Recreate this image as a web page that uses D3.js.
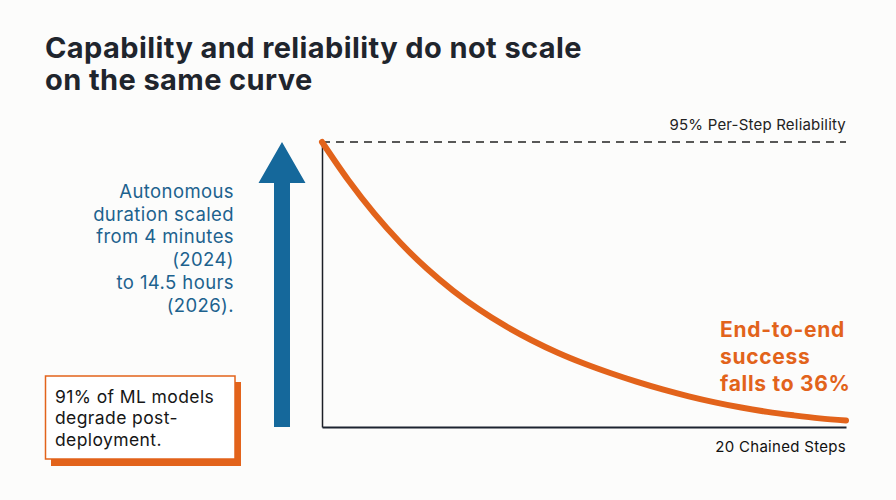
<!DOCTYPE html>
<html>
<head>
<meta charset="utf-8">
<script src="https://cdn.jsdelivr.net/npm/d3@7"></script>
<style>
  html, body { margin: 0; padding: 0; background: #fcfcfb; }
  svg { display: block; font-family: Inter, "Noto Sans", sans-serif; }
</style>
</head>
<body>
<div id="chart"></div>
<script>
// chained steps and end-to-end success
var steps = [0, 1, 2, 3, 4, 5, 6, 7, 8, 9, 10, 11, 12, 13, 14, 15, 16, 17, 18, 19, 20];
var success = [1.00, 0.912, 0.834, 0.766, 0.707, 0.656, 0.612, 0.574, 0.541, 0.512,
  0.487, 0.465, 0.445, 0.427, 0.411, 0.397, 0.385, 0.375, 0.367, 0.360, 0.355];

var titleLines = ["Capability and reliability do not scale", "on the same curve"];
var capabilityLines = ["Autonomous", "duration scaled", "from 4 minutes", "(2024)", "to 14.5 hours", "(2026)."];
var boxLines = ["91% of ML models", "degrade post-", "deployment."];
var endLines = ["End-to-end", "success", "falls to 36%"];
var topLabel = "95% Per-Step Reliability";
var bottomLabel = "20 Chained Steps";

var width = 896;
var height = 500;
var margin = { top: 142, right: 50, bottom: 73, left: 322 };

var orange = "#e2631b";
var blue = "#15689b";
var ink = "#1f252d";

var svg = d3.select("#chart").append("svg")
  .attr("width", width)
  .attr("height", height);

svg.append("rect").attr("width", width).attr("height", height).attr("fill", "#fcfcfb");

var xScale = d3.scaleLinear().domain([0, 20]).range([margin.left, width - margin.right]);
var yScale = d3.scaleLinear().domain([0.34, 1]).range([height - margin.bottom, margin.top]);

// title
svg.append("text")
  .attr("x", 45)
  .attr("y", 58)
  .attr("fill", ink)
  .style("font-size", "29px")
  .style("font-weight", 700)
  .style("letter-spacing", "0.4px")
  .selectAll("tspan")
  .data(titleLines)
  .enter().append("tspan")
  .attr("x", 45)
  .attr("dy", function(d, i) { return i ? 32 : 0; })
  .text(function(d) { return d; });

// dashed reference line
svg.append("line")
  .attr("x1", xScale(0))
  .attr("x2", xScale(20))
  .attr("y1", yScale(1))
  .attr("y2", yScale(1))
  .attr("stroke", "#222")
  .attr("stroke-width", 1.5)
  .attr("stroke-dasharray", "8,6");

svg.append("text")
  .attr("x", xScale(20))
  .attr("y", 129.5)
  .attr("text-anchor", "end")
  .attr("fill", "#222")
  .style("font-size", "15px")
  .style("letter-spacing", "0.2px")
  .text(topLabel);

// axes
svg.append("g")
  .attr("class", "y axis")
  .attr("transform", "translate(" + xScale(0) + ",0)")
  .call(d3.axisLeft(yScale).ticks(0).tickSizeOuter(0))
  .call(function(g) { g.select(".domain").attr("stroke", "#1c1f26").attr("stroke-width", 1.5); });

svg.append("g")
  .attr("class", "x axis")
  .attr("transform", "translate(0," + yScale(0.34) + ")")
  .call(d3.axisBottom(xScale).ticks(0).tickSizeOuter(0))
  .call(function(g) { g.select(".domain").attr("stroke", "#1c2330").attr("stroke-width", 2); });

svg.append("text")
  .attr("x", xScale(20))
  .attr("y", 452)
  .attr("text-anchor", "end")
  .attr("fill", "#111")
  .style("font-size", "15px")
  .style("letter-spacing", "0.3px")
  .text(bottomLabel);

// curve
var line = d3.line()
  .x(function(d, i) { return xScale(steps[i]); })
  .y(function(d) { return yScale(d); })
  .curve(d3.curveMonotoneX);

svg.append("path")
  .datum(success)
  .attr("d", line)
  .attr("fill", "none")
  .attr("stroke", orange)
  .attr("stroke-width", 6)
  .attr("stroke-linecap", "round");

// end label
svg.append("text")
  .attr("x", 720)
  .attr("y", 337)
  .attr("fill", orange)
  .style("font-size", "21px")
  .style("font-weight", 700)
  .style("letter-spacing", "0.7px")
  .selectAll("tspan")
  .data(endLines)
  .enter().append("tspan")
  .attr("x", 720)
  .attr("dy", function(d, i) { return i ? 27 : 0; })
  .text(function(d) { return d; });

// capability arrow
var ax = 282;
var tipY = yScale(1);
var baseY = yScale(0.34);
svg.append("path")
  .attr("d", "M" + ax + "," + tipY +
    "L" + (ax + 23.5) + "," + (tipY + 41) +
    "H" + (ax + 8) + "V" + baseY +
    "H" + (ax - 8) + "V" + (tipY + 41) +
    "H" + (ax - 23.5) + "Z")
  .attr("fill", blue);

svg.append("text")
  .attr("x", 234)
  .attr("y", 198)
  .attr("text-anchor", "end")
  .attr("fill", "#1d628e")
  .style("font-size", "18.5px")
  .style("letter-spacing", "0.4px")
  .selectAll("tspan")
  .data(capabilityLines)
  .enter().append("tspan")
  .attr("x", 234)
  .attr("dy", function(d, i) { return i ? 22.7 : 0; })
  .text(function(d) { return d; });

// callout box with offset shadow
svg.append("rect")
  .attr("x", 51).attr("y", 382)
  .attr("width", 190).attr("height", 84)
  .attr("fill", orange);

svg.append("rect")
  .attr("x", 45.5).attr("y", 376)
  .attr("width", 189.5).attr("height", 83)
  .attr("fill", "#fff")
  .attr("stroke", orange)
  .attr("stroke-width", 1.5);

svg.append("text")
  .attr("x", 55)
  .attr("y", 402.5)
  .attr("fill", "#161616")
  .style("font-size", "17.5px")
  .style("letter-spacing", "0.4px")
  .selectAll("tspan")
  .data(boxLines)
  .enter().append("tspan")
  .attr("x", 55)
  .attr("dy", function(d, i) { return i ? 21.5 : 0; })
  .text(function(d) { return d; });
</script>
</body>
</html>
